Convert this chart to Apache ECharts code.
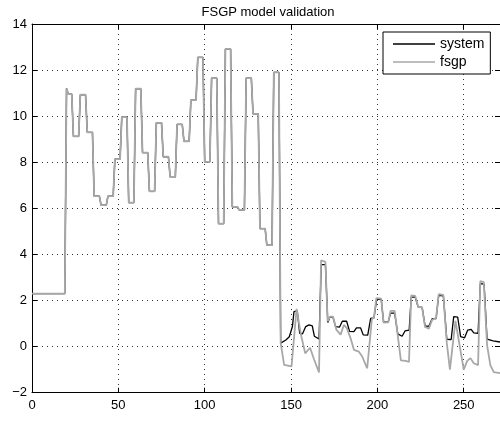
<!DOCTYPE html>
<html>
<head>
<meta charset="utf-8">
<script src="https://cdn.jsdelivr.net/npm/echarts@6/dist/echarts.min.js"></script>
<style>html,body{margin:0;padding:0;background:#fff}#c{width:500px;height:421px}</style>
</head>
<body>
<div id="c"></div>
<script>
// ---- data ----
var titleText = 'FSGP model validation';
var seriesNames = ['system', 'fsgp'];
var xTicks = [0, 50, 100, 150, 200, 250];
var yTicks = [-2, 0, 2, 4, 6, 8, 10, 12, 14];

// step section (both series coincide), [x, y] vertices
var stepPart = [
  [0,2.3],[19,2.3],[20,11.2],[21,10.96],[23,10.96],
  [24,9.12],[27,9.12],[28,10.93],[31,10.93],[32,9.3],[35,9.3],
  [36,6.53],[39,6.53],[40,6.14],[43,6.14],[44,6.53],[47,6.53],
  [48,8.14],[51,8.14],[52,9.96],[55,9.96],[56,6.25],[59,6.25],
  [60,11.19],[63,11.19],[64,8.42],[67,8.42],[68,6.74],[71,6.74],
  [72,9.71],[75,9.71],[76,8.24],[79,8.24],[80,7.36],[83,7.36],
  [84,9.64],[87,9.64],[88,8.91],[91,8.91],[92,10.7],[95,10.7],
  [96,12.55],[99,12.55],[100,8.02],[103,8.02],[104,11.65],[107,11.65],
  [108,5.34],[111,5.34],[112,12.92],[115,12.92],[116,6.06],[119,6.06],
  [120,5.93],[123,5.93],[124,11.65],[127,11.65],[128,10.1],[131,10.1],
  [132,5.12],[135,5.12],[136,4.4],[139,4.4],[140,11.9],[143,11.9]
];

var systemTail = [
  [144,0.15],[147,0.29],[149,0.43],[150.8,0.87],[151.7,1.52],[153.6,1.55],
  [155,0.58],[156.6,0.55],[158.5,0.87],[160.4,0.94],[162.3,0.9],[163.5,0.45],
  [166.2,0.33],[167.5,3.56],[169.9,3.56],[171.3,1.05],[172.5,1.28],[174.3,1.28],
  [175.8,0.87],[178.1,0.85],[179.7,1.1],[182.2,1.1],[183.9,0.66],[186.4,0.65],
  [187.9,0.81],[190.3,0.81],[191.8,0.51],[194.4,0.5],[196.1,1.23],[198,1.25],
  [199.6,2.05],[202.2,2.05],[203.6,1.06],[206.3,1.07],[207.6,1.45],[210,1.45],
  [211.8,0.55],[214.3,0.45],[216,0.68],[218.4,0.72],[219.6,2.15],[221.9,2.15],
  [223.6,1.72],[225.9,1.7],[227.6,0.9],[229.8,0.88],[231.7,1.21],[234,1.22],
  [235.5,2.22],[238.2,2.2],[240.2,0.32],[242.7,0.3],[244.2,1.3],[246.5,1.28],
  [248.2,0.43],[250.5,0.38],[252.3,0.72],[254.3,0.75],[255.8,0.6],[258.3,0.58],
  [259.6,2.73],[261.8,2.71],[263.5,0.33],[267,0.25],[271,0.2]
];

var fsgpTail = [
  [144,0.15],[146,-0.79],[150.3,-0.86],[153.2,1.64],[154.2,1.62],[155.8,0.5],
  [158.2,-0.29],[161,-0.05],[163.3,-0.55],[166.2,-1.12],[167.4,3.74],[169.9,3.68],
  [171.2,1.1],[172.6,1.3],[174.3,1.3],[176.2,0.74],[178.7,0.52],[180.6,0.94],
  [182.3,0.8],[184.5,0.36],[186.4,-0.14],[189.3,-0.22],[191.2,-0.43],[194.1,-0.94],
  [195,-0.94],[196.8,1.2],[198,1.25],[199.4,2.1],[202.2,2.08],[203.6,1.04],
  [206.3,1.05],[207.6,1.55],[210,1.55],[211.6,0.6],[213.6,-0.6],[216.3,-0.62],
  [218.3,-0.66],[219.6,2.22],[221.9,2.2],[223.6,1.73],[225.9,1.7],[227.6,0.85],
  [229.8,0.78],[231.7,1.16],[234,1.24],[235.5,2.28],[238.2,2.24],[240.2,0.15],
  [242,-1.0],[243,-1.0],[245.2,1.12],[246,1.05],[250,-1.0],[252,-0.62],
  [253.9,-0.5],[255.8,-0.72],[258.3,-0.8],[259.6,2.84],[261.6,2.8],[263.5,0.08],
  [265.4,-0.8],[267.4,-1.11],[271,-1.15]
];

var systemData = stepPart.concat(systemTail);
var fsgpData = stepPart.concat(fsgpTail);

// ---- chart ----
var FONT = 'Liberation Sans, Arial, Helvetica, sans-serif';
var chart = echarts.init(document.getElementById('c'), null, {renderer: 'canvas'});
function fmt(v) {
  if (xTicks.indexOf(v) < 0 && yTicks.indexOf(v) < 0) return '';
  return String(v).replace('-', '\u2212');
}
var gridLine = {show: true, lineStyle: {color: '#333', width: 1, type: [1, 4]}};
var axLine = {show: true, onZero: false, lineStyle: {color: '#000', width: 1}};
var tick = {show: true, inside: true, length: 5, lineStyle: {color: '#000'}};
chart.setOption({
  animation: false,
  backgroundColor: '#fff',
  title: {
    text: titleText, left: 263, top: 1, textAlign: 'center',
    textStyle: {fontFamily: FONT, fontSize: 13, fontWeight: 'normal', color: '#000'}
  },
  legend: {
    data: seriesNames, orient: 'vertical', left: 383, top: 32,
    icon: 'rect', itemWidth: 42, itemHeight: 1.6, itemGap: 4,
    padding: [5, 6, 5, 10],
    borderColor: '#000', borderWidth: 1, backgroundColor: '#fff',
    textStyle: {fontFamily: FONT, fontSize: 14, color: '#000'}
  },
  grid: {left: 32, top: 24, width: 468, height: 368.7, containLabel: false},
  xAxis: [{
    type: 'value', min: 0, max: 271, interval: 50, position: 'bottom',
    axisLine: axLine, axisTick: tick, splitLine: gridLine,
    axisLabel: {fontFamily: FONT, fontSize: 13, color: '#000', margin: 6, formatter: fmt, showMaxLabel: false}
  }, {
    type: 'value', min: 0, max: 271, interval: 50, position: 'top',
    axisLine: axLine, axisTick: tick, splitLine: {show: false}, axisLabel: {show: false}
  }],
  yAxis: [{
    type: 'value', min: -2, max: 14, interval: 2, position: 'left',
    axisLine: axLine, axisTick: tick, splitLine: gridLine,
    axisLabel: {fontFamily: FONT, fontSize: 13, color: '#000', margin: 5, formatter: fmt}
  }, {
    type: 'value', min: -2, max: 14, interval: 2, position: 'right',
    axisLine: axLine, axisTick: tick, splitLine: {show: false}, axisLabel: {show: false}
  }],
  series: [{
    name: 'system', type: 'line', data: systemData, symbol: 'none', showSymbol: false,
    lineStyle: {color: '#000', width: 1.3}, itemStyle: {color: '#000'}, z: 2
  }, {
    name: 'fsgp', type: 'line', data: fsgpData, symbol: 'none', showSymbol: false,
    lineStyle: {color: '#a8a8a8', width: 1.8}, itemStyle: {color: '#a8a8a8'}, z: 3
  }]
});
</script>
</body>
</html>
